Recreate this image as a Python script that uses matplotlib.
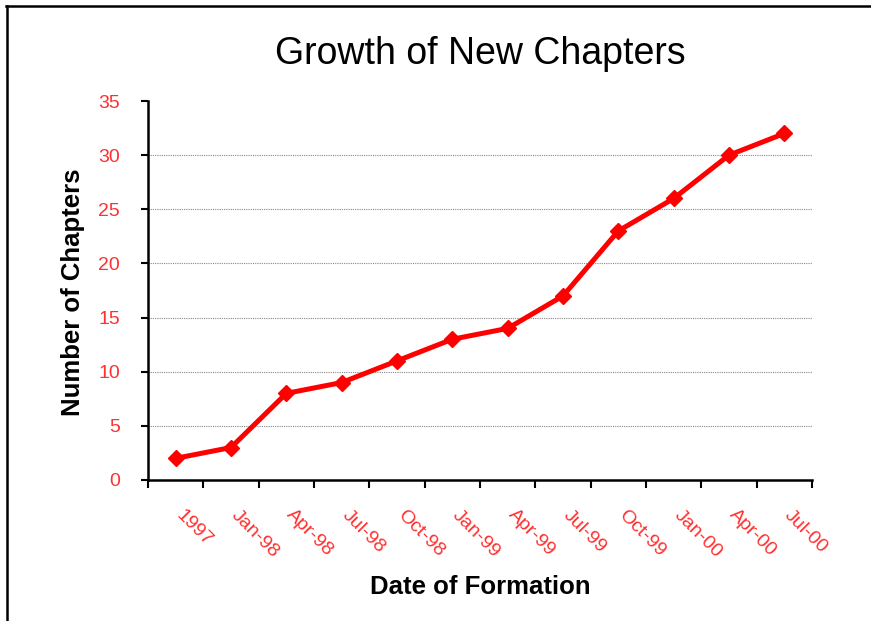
import matplotlib
matplotlib.use("Agg")
import matplotlib.pyplot as plt
from matplotlib.lines import Line2D
import matplotlib.transforms as mtransforms
import numpy as np

categories = ["1997", "Jan-98", "Apr-98", "Jul-98", "Oct-98", "Jan-99",
              "Apr-99", "Jul-99", "Oct-99", "Jan-00", "Apr-00", "Jul-00"]
chapters = [2, 3, 8, 9, 11, 13, 14, 17, 23, 26, 30, 32]
y_ticks = [0, 5, 10, 15, 20, 25, 30, 35]

plt.rcParams['font.family'] = ['Liberation Sans', 'DejaVu Sans']
red = '#ff0000'
label_red = '#ff3030'

fig = plt.figure(figsize=(8.71, 6.21), dpi=100)
W, H = 871, 621
ax = fig.add_axes([148 / W, 1 - 480 / H, (812 - 148) / W, (480 - 101) / H])

x = np.arange(len(categories))
ax.plot(x, chapters, color=red, lw=3.6, marker='D', markersize=8,
        markeredgecolor=red, markerfacecolor=red, zorder=5, clip_on=False)

ax.set_xlim(-0.5, len(categories) - 0.5)
ax.set_ylim(0, 35)

# x axis: major ticks at boundaries, labels on minor ticks at centers
ax.set_xticks(np.arange(-0.5, len(categories), 1.0))
ax.set_xticklabels([])
ax.set_xticks(x, minor=True)
ax.set_xticklabels(categories, minor=True, rotation=-45, ha='left', va='top',
                   rotation_mode='anchor', color=label_red, fontsize=14)
ax.tick_params(axis='x', which='major', direction='out', length=6, width=1.5)
ax.tick_params(axis='x', which='minor', length=0, pad=19)
offset = mtransforms.ScaledTranslation(9 / 100, 0, fig.dpi_scale_trans)
for lbl in ax.get_xticklabels(minor=True):
    lbl.set_transform(lbl.get_transform() + offset)

ax.set_yticks(y_ticks)
ax.set_yticklabels([str(v) for v in y_ticks], color=label_red, fontsize=14)
ax.tick_params(axis='y', direction='out', length=5, width=1.5, pad=15)

ax.yaxis.grid(True, linestyle=(0, (1, 1)), color='#888888', lw=0.8)
ax.get_ygridlines()[-1].set_visible(False)
ax.get_ygridlines()[0].set_visible(False)
ax.set_axisbelow(True)

for s in ['top', 'right']:
    ax.spines[s].set_visible(False)
for s in ['left', 'bottom']:
    ax.spines[s].set_linewidth(1.8)

fig.text(480 / W, 1 - 54 / H, "Growth of New Chapters", ha='center', va='center',
         fontsize=27)
fig.text(73 / W, 1 - 292 / H, "Number of Chapters", rotation=90, ha='center',
         va='center', fontsize=18.5, fontweight='bold')
fig.text(480 / W, 1 - 587 / H, "Date of Formation", ha='center', va='center',
         fontsize=18.5, fontweight='bold')

# frame lines (top and left)
fig.add_artist(Line2D([6 / W, 1.0], [1 - 5.5 / H, 1 - 5.5 / H], color='black', lw=1.8,
                      transform=fig.transFigure))
fig.add_artist(Line2D([6.5 / W, 6.5 / W], [0, 1 - 5.5 / H], color='black', lw=1.8,
                      transform=fig.transFigure))

fig.savefig("out.png", dpi=100)
